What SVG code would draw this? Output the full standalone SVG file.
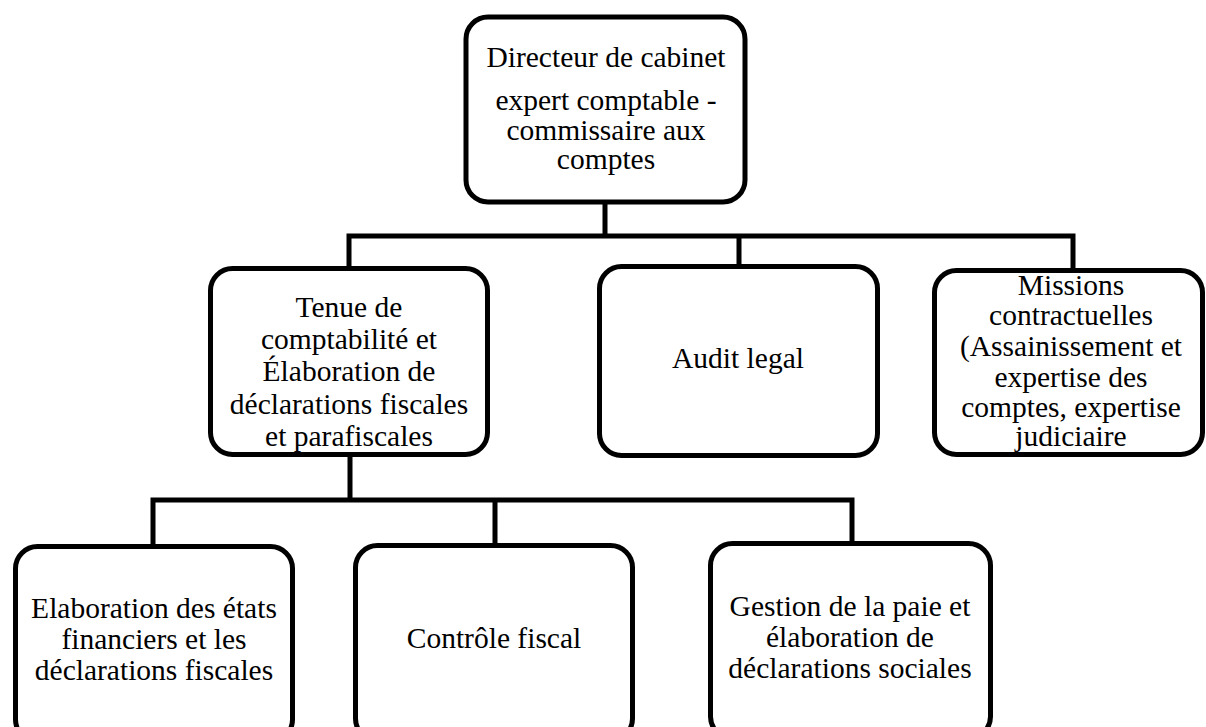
<svg xmlns="http://www.w3.org/2000/svg" width="1206" height="727" viewBox="0 0 1206 727">
<style>
.box{fill:#fff;stroke:#000;stroke-width:5}
.ln{fill:none;stroke:#000;stroke-width:5;stroke-linecap:square}
text{font-family:"Liberation Serif","Times New Roman",serif;font-size:29.5px;fill:#000;text-anchor:middle}
</style>
<rect width="1206" height="727" fill="#fff"/>
<g id="connectors">
<path class="ln" d="M605 204V236M349 236H1073M349 236V267M739 236V265M1073 236V269"/>
<path class="ln" d="M350 457V500M153 500H852M153 500V545M495 500V543M852 500V542"/>
</g>
<g id="director">
<rect class="box" x="466" y="17" width="279" height="185" rx="22"/>
<text x="606" y="67">Directeur de cabinet</text>
<text x="606" y="110">expert comptable -</text>
<text x="606" y="139.5">commissaire aux</text>
<text x="606" y="169">comptes</text>
</g>
<g id="tenue">
<rect class="box" x="210.5" y="268.5" width="277" height="186" rx="22"/>
<text x="349" y="317">Tenue de</text>
<text x="349" y="349">comptabilité et</text>
<text x="349" y="381">Élaboration de</text>
<text x="349" y="414">déclarations fiscales</text>
<text x="349" y="446">et parafiscales</text>
</g>
<g id="audit">
<rect class="box" x="599.5" y="266.5" width="278" height="189" rx="22"/>
<text x="738" y="368">Audit legal</text>
</g>
<g id="missions">
<rect class="box" x="934.5" y="270.5" width="268" height="184" rx="22"/>
<text x="1071" y="295">Missions</text>
<text x="1071" y="325">contractuelles</text>
<text x="1071" y="356">(Assainissement et</text>
<text x="1071" y="387">expertise des</text>
<text x="1071" y="417">comptes, expertise</text>
<text x="1071" y="446">judiciaire</text>
</g>
<g id="elaboration">
<rect class="box" x="15.5" y="546.5" width="277" height="195" rx="22"/>
<text x="154" y="618">Elaboration des états</text>
<text x="154" y="649">financiers et les</text>
<text x="154" y="680">déclarations fiscales</text>
</g>
<g id="controle">
<rect class="box" x="355.5" y="545.5" width="277" height="195" rx="22"/>
<text x="494" y="648">Contrôle fiscal</text>
</g>
<g id="gestion">
<rect class="box" x="710.5" y="543.5" width="280" height="195" rx="22"/>
<text x="850" y="616">Gestion de la paie et</text>
<text x="850" y="647">élaboration de</text>
<text x="850" y="678">déclarations sociales</text>
</g>
</svg>
